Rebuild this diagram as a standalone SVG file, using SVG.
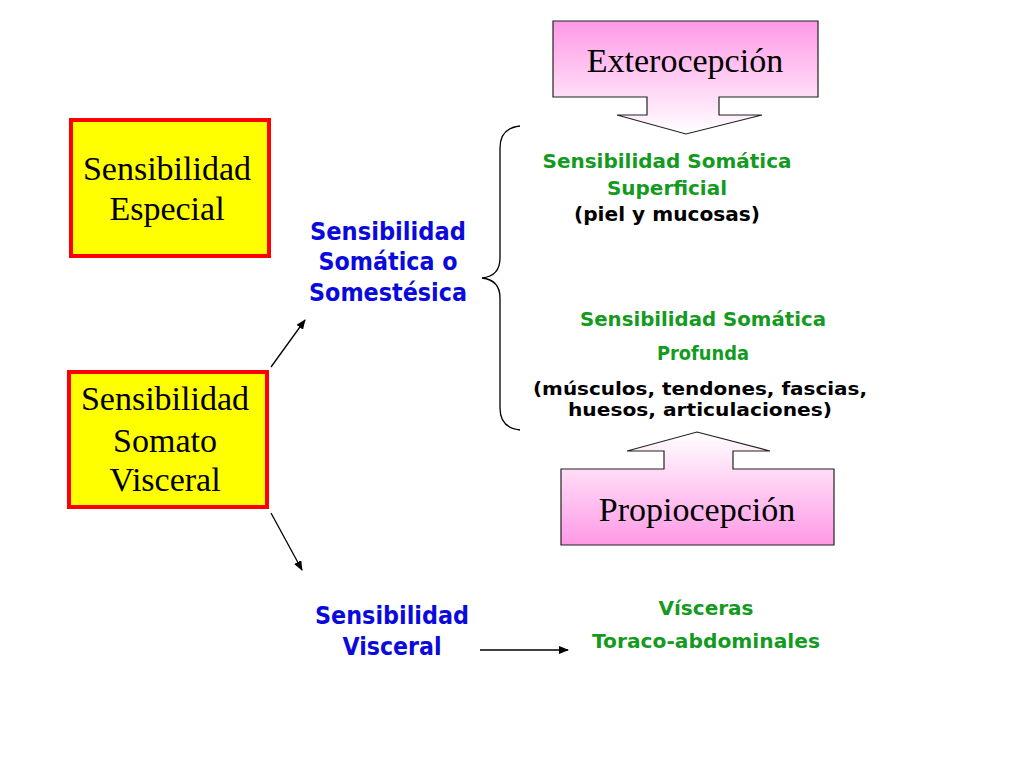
<svg xmlns="http://www.w3.org/2000/svg" width="1024" height="768" viewBox="0 0 1024 768">
<style>
.serif{font-family:"Liberation Serif","Times New Roman",serif;font-size:34px;fill:#000;text-anchor:middle}
.sans{font-family:"DejaVu Sans",Verdana,sans-serif;font-weight:bold;text-anchor:middle}
.blue{fill:#0A0ADC;font-size:25px}
.green{fill:#149A1E;font-size:20px}
.black{fill:#000;font-size:20px}
.tight{font-size:18px}
.ybox{fill:#FFFF00;stroke:#FF0000;stroke-width:4}
.call{stroke:#222;stroke-width:1.2}
.conn{stroke:#000;stroke-width:1.3;fill:none}
</style>
<defs>
<linearGradient id="gExt" gradientUnits="userSpaceOnUse" x1="0" y1="21" x2="0" y2="134">
<stop offset="0" stop-color="#FF99E6"/>
<stop offset="1" stop-color="#FFFFFF"/>
</linearGradient>
<linearGradient id="gPro" gradientUnits="userSpaceOnUse" x1="0" y1="432" x2="0" y2="545">
<stop offset="0" stop-color="#FFFFFF"/>
<stop offset="1" stop-color="#FF99E6"/>
</linearGradient>
<marker id="ah" markerWidth="10" markerHeight="8" refX="9" refY="4" orient="auto" markerUnits="userSpaceOnUse">
<path d="M0,0 L10,4 L0,8 Z" fill="#000"/>
</marker>
</defs>
<rect width="1024" height="768" fill="#fff"/>

<g id="especial">
<rect class="ybox" x="71" y="120" width="198" height="136"/>
<text class="serif" x="167" y="180">Sensibilidad</text>
<text class="serif" x="167" y="220">Especial</text>
</g>

<g id="somatovisceral">
<rect class="ybox" x="69" y="372" width="198" height="135"/>
<text class="serif" x="165" y="410">Sensibilidad</text>
<text class="serif" x="165" y="452">Somato</text>
<text class="serif" x="165" y="491">Visceral</text>
</g>

<g id="exterocepcion">
<polygon class="call" fill="url(#gExt)" points="553,21 818,21 818,97 719,97 719,115 762,115 686,134 617,115 647,115 647,97 553,97"/>
<text class="serif" x="685" y="72">Exterocepción</text>
</g>

<g id="propiocepcion">
<polygon class="call" fill="url(#gPro)" points="697,432 770,451 733,451 733,469 834,469 834,545 561,545 561,469 664,469 664,451 627,451"/>
<text class="serif" x="697" y="521">Propiocepción</text>
</g>

<g id="somatica">
<text class="sans blue" x="388" y="240" textLength="156" lengthAdjust="spacingAndGlyphs">Sensibilidad</text>
<text class="sans blue" x="388" y="270" textLength="139" lengthAdjust="spacingAndGlyphs">Somática o</text>
<text class="sans blue" x="388" y="301" textLength="158" lengthAdjust="spacingAndGlyphs">Somestésica</text>
</g>

<g id="visceral">
<text class="sans blue" x="392" y="624" textLength="154" lengthAdjust="spacingAndGlyphs">Sensibilidad</text>
<text class="sans blue" x="392" y="655" textLength="99" lengthAdjust="spacingAndGlyphs">Visceral</text>
</g>

<g id="superficial">
<text class="sans green" x="667" y="168" textLength="249" lengthAdjust="spacingAndGlyphs">Sensibilidad Somática</text>
<text class="sans green" x="667" y="195" textLength="120" lengthAdjust="spacingAndGlyphs">Superficial</text>
<text class="sans black" x="667" y="221" textLength="186" lengthAdjust="spacingAndGlyphs">(piel y mucosas)</text>
</g>

<g id="profunda">
<text class="sans green" x="703" y="326" textLength="246" lengthAdjust="spacingAndGlyphs">Sensibilidad Somática</text>
<text class="sans green" x="703" y="360" textLength="92" lengthAdjust="spacingAndGlyphs">Profunda</text>
<text class="sans black tight" x="700" y="395" textLength="334" lengthAdjust="spacingAndGlyphs">(músculos, tendones, fascias,</text>
<text class="sans black tight" x="700" y="416" textLength="264" lengthAdjust="spacingAndGlyphs">huesos, articulaciones)</text>
</g>

<g id="visceras">
<text class="sans green" x="706" y="615" textLength="95" lengthAdjust="spacingAndGlyphs">Vísceras</text>
<text class="sans green" x="706" y="648" textLength="228" lengthAdjust="spacingAndGlyphs">Toraco-abdominales</text>
</g>

<g id="connectors">
<path class="conn" d="M520,126 Q500,128 500,148 L500,258 Q500,276 482,278 Q500,280 500,298 L500,408 Q500,428 520,430"/>
<line class="conn" x1="271" y1="367" x2="305" y2="320" marker-end="url(#ah)"/>
<line class="conn" x1="271" y1="513" x2="302" y2="570" marker-end="url(#ah)"/>
<line class="conn" x1="480" y1="650" x2="568" y2="650" marker-end="url(#ah)"/>
</g>
</svg>
